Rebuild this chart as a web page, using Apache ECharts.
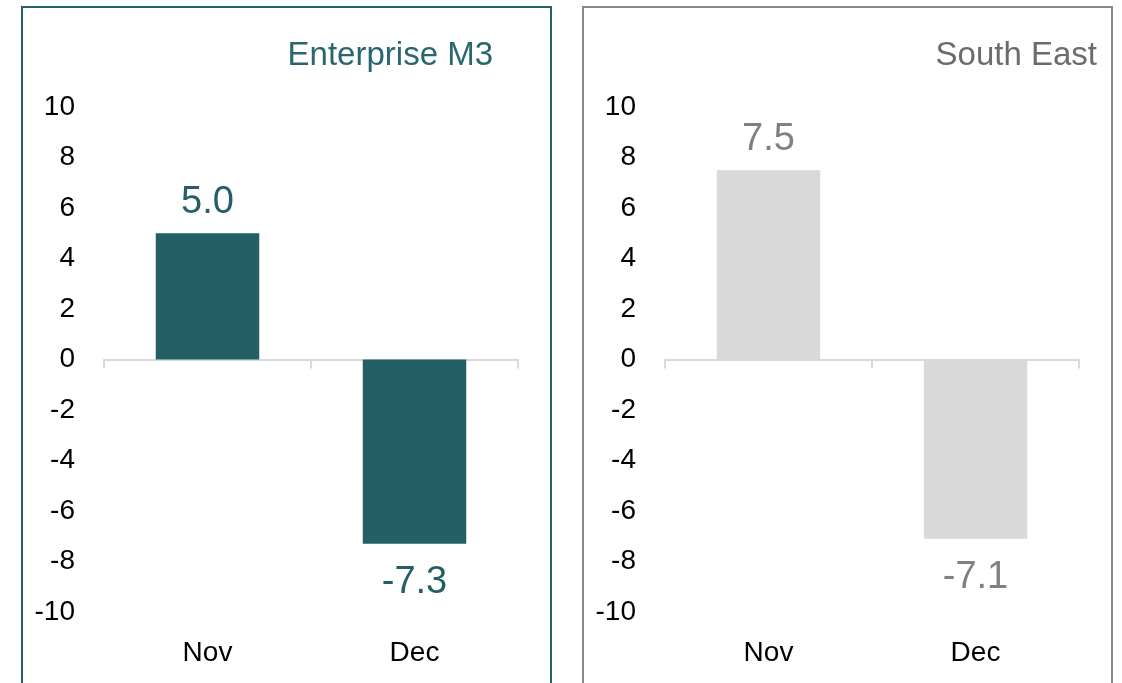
<!DOCTYPE html>
<html lang="en">
<head>
	<meta charset="UTF-8">
	<title>Enterprise M3 vs South East</title>
	<style type="text/css">
	body {
		margin: 0;
		background: #fff;
		overflow: hidden;
	}
	.panel {
		position: absolute;
		top: 6px;
		width: 531px;
		height: 700px;
		box-sizing: border-box;
		border: 2px solid;
		border-bottom: none;
	}
	.m3 {
		left: 21px;
		border-color: #26626a;
	}
	.se {
		left: 582px;
		border-color: #888888;
	}
	.chart {
		width: 527px;
		height: 698px;
	}
</style>
</head>
<body>
	<div class="panel m3"><div class="chart" id="m3"></div></div>
	<div class="panel se"><div class="chart" id="se"></div></div>

	<script type="text/javascript" src="https://cdn.jsdelivr.net/npm/echarts@6/dist/echarts.min.js"></script>
	<script type="text/javascript">

		// data
		var categories = ['Nov', 'Dec'];
		var m3Values = [5.0, -7.3];
		var seValues = [7.5, -7.1];
		var yMin = -10, yMax = 10, yStep = 2;

		var font = '"Liberation Sans Narrow", "Liberation Sans", Arial, sans-serif';

		// build one panel
		function makeOption (title, titleRight, values, barColor, labelColor, titleColor) {
			var data = values.map(function (v) {
				return {
					value: v,
					label: { position: v < 0 ? 'bottom' : 'top', distance: v < 0 ? 20 : 12 }
				};
			});
			return {
				animation: false,
				title: {
					text: title,
					right: titleRight,
					top: 26,
					textStyle: {
						fontFamily: font,
						fontWeight: 'normal',
						fontSize: 33,
						color: titleColor
					}
				},
				grid: {
					left: 81,
					top: 99,
					width: 414,
					height: 505
				},
				xAxis: [{
					type: 'category',
					data: categories,
					axisLine: { onZero: true, lineStyle: { color: '#d9d9d9', width: 2 } },
					axisTick: { show: true, length: 9, lineStyle: { color: '#d9d9d9', width: 2 } },
					axisLabel: { show: false }
				}, {
					type: 'category',
					data: categories,
					position: 'bottom',
					axisLine: { show: false },
					axisTick: { show: false },
					axisLabel: {
						margin: 27,
						fontFamily: font,
						fontSize: 28,
						color: '#000'
					}
				}],
				yAxis: {
					type: 'value',
					min: yMin,
					max: yMax,
					interval: yStep,
					axisLine: { show: false },
					axisTick: { show: false },
					splitLine: { show: false },
					axisLabel: {
						margin: 29,
						fontFamily: font,
						fontSize: 28,
						color: '#000'
					}
				},
				series: [{
					type: 'bar',
					xAxisIndex: 0,
					data: data,
					barWidth: '50%',
					itemStyle: { color: barColor },
					label: {
						show: true,
						fontFamily: font,
						fontSize: 38,
						color: labelColor,
						formatter: function (p) {
							return p.value.toFixed(1);
						}
					}
				}]
			};
		}

		var m3 = echarts.init(document.getElementById('m3'));
		var se = echarts.init(document.getElementById('se'));

		m3.setOption(makeOption('Enterprise M3', 52, m3Values, '#245f66', '#245f66', '#2a666d'));
		se.setOption(makeOption('South East', 9, seValues, '#d9d9d9', '#808080', '#6b6b6b'));

	</script>
</body>
</html>
